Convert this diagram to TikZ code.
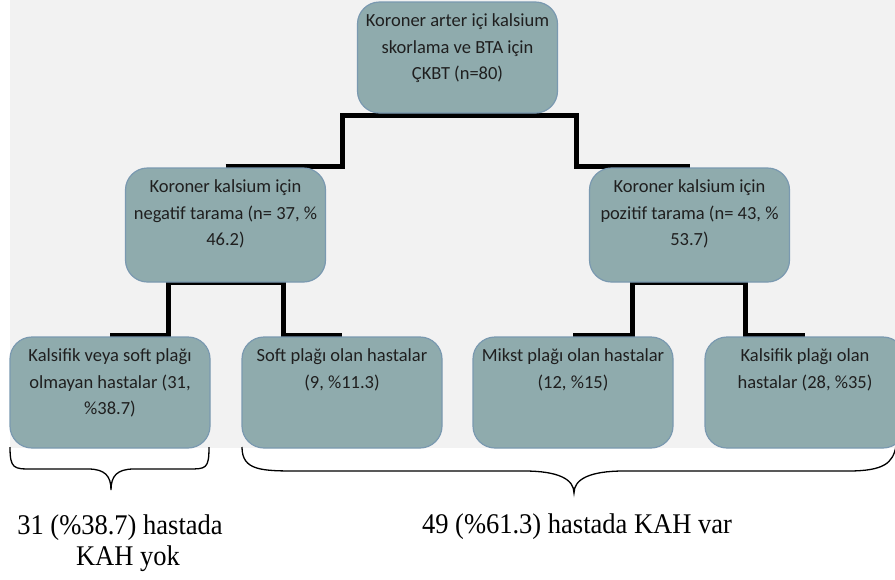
\documentclass[tikz,border=0pt]{standalone}
\usepackage{fontspec}
\setmainfont{Carlito}
\newfontfamily\capfont[FakeStretch=0.93]{Liberation Serif}
\usetikzlibrary{calc}
\definecolor{bggray}{RGB}{242,242,242}
\definecolor{cellfill}{RGB}{143,171,173}
\definecolor{celledge}{RGB}{122,153,176}
\pgfdeclarelayer{back}
\pgfdeclarelayer{lines}
\pgfsetlayers{back,lines,main}
\tikzset{cell/.style={draw=celledge, line width=1.2pt, fill=cellfill, rounded corners=22pt, inner sep=0pt, font=\fontsize{18.5}{26.5}\selectfont, text=black!88}}
\tikzset{link/.style={line width=5pt}}
\tikzset{curly/.style={line width=1.3pt}}
\tikzset{caption/.style={font=\capfont\fontsize{28.5}{31}\selectfont, align=center, inner sep=0pt}}
\newcommand{\celltext}[2]{\parbox[c][#1pt][t]{200pt}{\centering\vspace{12pt}#2}}
\newcommand{\bgframe}{
    \fill[bggray] (10,0) rectangle (895,448);
}

\begin{document}
\begin{tikzpicture}[x=1pt,y=-1pt]
        \useasboundingbox (0,0) rectangle (895,579);
        \clip (0,0) rectangle (895,579);
        \begin{pgfonlayer}{back}
            \bgframe
        \end{pgfonlayer}

        \node[cell] (ckbt) at (457.5,57.5) {\celltext{111}{Koroner arter içi kalsium\\skorlama ve BTA için\\ÇKBT (n=80)}};
        \node[cell] (neg) at (225.5,225) {\celltext{114}{Koroner kalsium için\\negatif tarama (n= 37, \%\\46.2)}};
        \node[cell] (pos) at (689.5,225) {\celltext{114}{Koroner kalsium için\\pozitif tarama (n= 43, \%\\53.7)}};
        \node[cell] (nocal) at (110,392.5) {\celltext{111}{Kalsifik veya soft plağı\\olmayan hastalar (31,\\\%38.7)}};
        \node[cell] (soft) at (342,392.5) {\celltext{111}{Soft plağı olan hastalar\\(9, \%11.3)}};
        \node[cell] (mixed) at (573,392.5) {\celltext{111}{Mikst plağı olan hastalar\\(12, \%15)}};
        \node[cell] (calc) at (805,392.5) {\celltext{111}{Kalsifik plağı olan\\hastalar (28, \%35)}};

        \begin{pgfonlayer}{lines}
            \draw[link] ($(neg.north)+(0,-1)$) -| ($(ckbt.south)+(-115,2)$)
                -| ($(pos.north)+(-113,-1)$) -- ($(pos.north)+(0,-1)$);
            \draw[link] ($(nocal.north)+(0,-1)$) -| ($(neg.south)+(-57.5,0)$)
                -| ($(soft.north)+(-59,-1)$) -- ($(soft.north)+(0,-1)$);
            \draw[link] ($(mixed.north)+(0,-1)$) -| ($(pos.south)+(-57.5,0)$)
                -| ($(calc.north)+(-60,-1)$) -- ($(calc.north)+(0,-1)$);
        \end{pgfonlayer}

        \draw[curly] (10,447) .. controls (10,469) and (14,469) .. (32,469) -- (88,469)
            .. controls (105,469) and (111,476) .. (111,490)
            .. controls (111,476) and (117,469) .. (134,469) -- (188,469)
            .. controls (206,469) and (209,469) .. (209,447);
        \draw[curly] (242,447) .. controls (242,471) and (262,471) .. (300,471) -- (524,471)
            .. controls (558,471) and (574,479) .. (574,493)
            .. controls (574,479) and (590,471) .. (624,471) -- (848,471)
            .. controls (884,471) and (893,463) .. (896,446);

        \node[caption] (nocad) at (120,543) {31 (\%38.7) hastada\\\hspace*{16pt}KAH yok};
        \node[caption] (cad) at (577,527) {49 (\%61.3) hastada KAH var};
    \end{tikzpicture}
\end{document}
